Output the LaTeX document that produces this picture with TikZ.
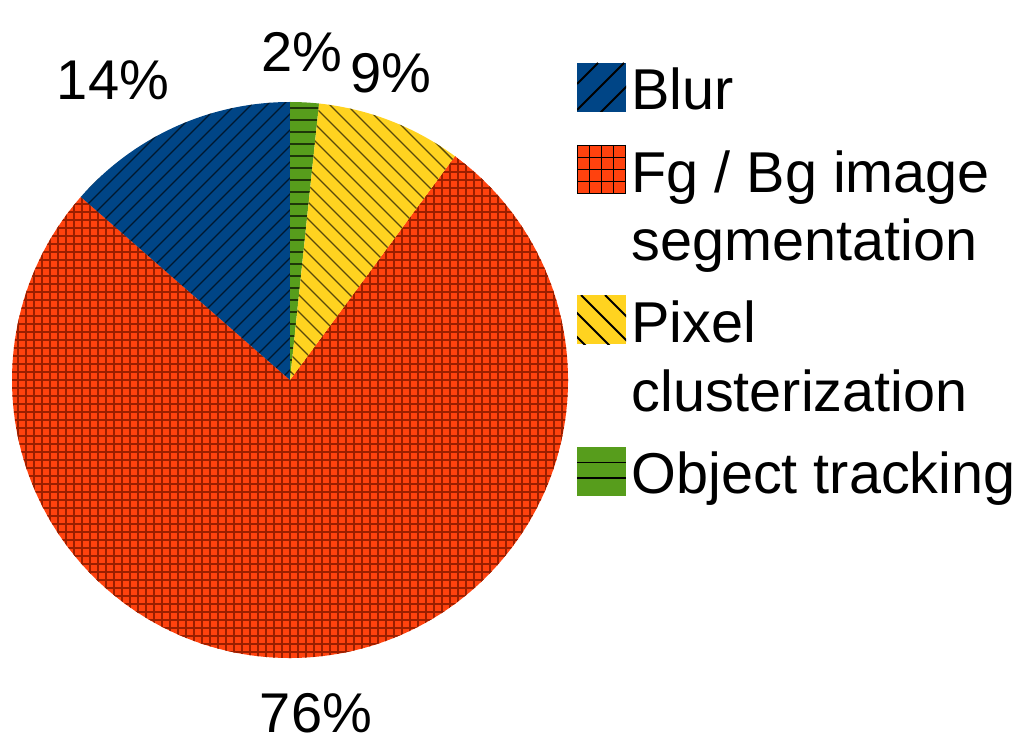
\documentclass[tikz,border=0pt]{standalone}
\usepackage{fontspec}
\setmainfont{Liberation Sans}
\definecolor{cblue}{HTML}{004586}
\definecolor{cred}{HTML}{FF420E}
\definecolor{cyellow}{HTML}{FFD320}
\definecolor{cgreen}{HTML}{579D1C}
\definecolor{cgrid}{HTML}{9A1F00}
\tikzset{
  lbl/.style={inner sep=0pt, font=\fontsize{28}{34}\selectfont, anchor=base},
  legtext/.style={inner sep=0pt, font=\fontsize{28.8}{34}\selectfont, anchor=base west},
  hatch/.style={line width=0.7pt, draw=black, draw opacity=0.65},
  gridline/.style={line width=0.8pt, draw=cgrid},
  swline/.style={line width=0.9pt, draw=black},
}
\begin{document}
\begin{tikzpicture}[x=0.5pt,y=-0.5pt]
\useasboundingbox (0,0) rectangle (1015,743);
\coordinate (C) at (290,380);
\def\R{278}
% ---- slices ----
% red
\fill[cred] (C) -- ++(306.4:\R) arc[start angle=306.4,end angle=581.2,radius=\R] -- cycle;
\begin{scope}
\clip (C) -- ++(306.4:\R) arc[start angle=306.4,end angle=581.2,radius=\R] -- cycle;
\foreach \x in {10,18,...,580} \draw[gridline] (\x,90) -- (\x,670);
\foreach \y in {100,108,...,670} \draw[gridline] (0,\y) -- (580,\y);
\end{scope}
% blue
\fill[cblue] (C) -- ++(581.2:\R) arc[start angle=581.2,end angle=630,radius=\R] -- cycle;
\begin{scope}
\clip (C) -- ++(581.2:\R) arc[start angle=581.2,end angle=630,radius=\R] -- cycle;
\foreach \c in {100,116,...,720} \draw[hatch] (\c,0) -- (0,\c);
\end{scope}
% green
\fill[cgreen] (C) -- ++(270:\R) arc[start angle=270,end angle=276,radius=\R] -- cycle;
\begin{scope}
\clip (C) -- ++(270:\R) arc[start angle=270,end angle=276,radius=\R] -- cycle;
\foreach \y in {108,120,...,400} \draw[hatch] (280,\y) -- (330,\y);
\end{scope}
% yellow
\fill[cyellow] (C) -- ++(276:\R) arc[start angle=276,end angle=306.4,radius=\R] -- cycle;
\begin{scope}
\clip (C) -- ++(276:\R) arc[start angle=276,end angle=306.4,radius=\R] -- cycle;
\foreach \c in {-200,-183,...,500} \draw[hatch] (\c,0) -- ({\c+600},600);
\end{scope}
% ---- percent labels ----
\node[lbl] (p14) at (113,100) {14\%};
\node[lbl] (p2) at (302,72) {2\%};
\node[lbl] (p9) at (391,93) {9\%};
\node[lbl] (p76) at (316,732) {76\%};
% ---- legend ----
% Blur swatch
\begin{scope}[shift={(577,63)}]
\fill[cblue] (0,0) rectangle (49,49);
\clip (0,0) rectangle (49,49);
\foreach \c in {21,47,73} \draw[swline] (\c,0) -- (0,\c);
\end{scope}
% Fg swatch
\begin{scope}[shift={(577,145)}]
\fill[cred] (0,0) rectangle (49,49);
\foreach \t in {0.5,12.5,24.5,36.5,48.5} {
  \draw[swline] (\t,0) -- (\t,49);
  \draw[swline] (0,\t) -- (49,\t);
}
\end{scope}
% Pixel swatch
\begin{scope}[shift={(577,295)}]
\fill[cyellow] (0,0) rectangle (49,49);
\clip (0,0) rectangle (49,49);
\foreach \c in {-42,-18,4,28} \draw[swline] (\c,0) -- ({\c+60},60);
\end{scope}
% Object swatch
\begin{scope}[shift={(577,447)}]
\fill[cgreen] (0,0) rectangle (49,49);
\draw[swline] (0,15.5) -- (49,15.5);
\draw[swline] (0,31) -- (49,31);
\end{scope}
\node[legtext] (lblur) at (631,110) {Blur};
\node[legtext] (lfg1) at (631,192) {Fg / Bg image};
\node[legtext] (lfg2) at (631,260) {segmentation};
\node[legtext] (lpx1) at (631,342) {Pixel};
\node[legtext] (lpx2) at (631,411) {clusterization};
\node[legtext] (lobj) at (631,493) {Object tracking};
\end{tikzpicture}
\end{document}
